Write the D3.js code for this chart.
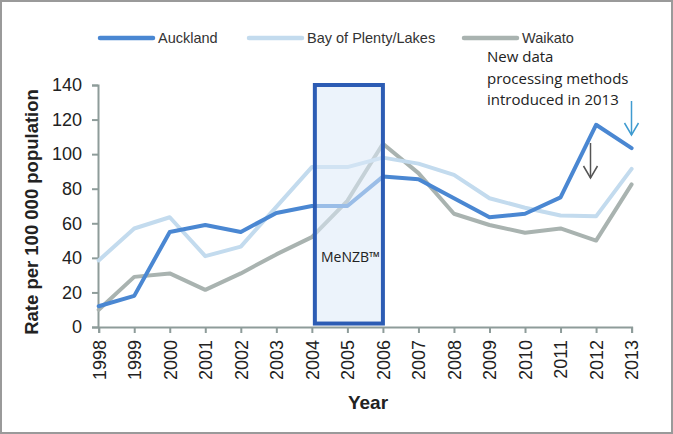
<!DOCTYPE html>
<html><head><meta charset="utf-8">
<script src="https://cdn.jsdelivr.net/npm/d3@7"></script>
<style>html,body{margin:0;padding:0;background:#fff;}svg{display:block;}</style>
</head><body>
<svg id="chart" width="673" height="434"></svg>
<script>
const years = [1998,1999,2000,2001,2002,2003,2004,2005,2006,2007,2008,2009,2010,2011,2012,2013];
const auckland = [12,18,55,59,55,66,70,70,87,85.5,74.5,63.5,65.5,75,117,103.5];
const bayOfPlenty = [38.5,57,63.5,41,46.5,69.5,92.5,92.5,98,94.5,88,74.5,69,64.5,64,91.5];
const waikato = [10,29,31,21.5,31,42,52,73,106,89,65.5,59,54.5,57,50,82.5];
const yTicks = [0,20,40,60,80,100,120,140];
const seriesNames = ["Auckland","Bay of Plenty/Lakes","Waikato"];
const seriesColors = ["#4a87d2","#c3dbee","#a9b3b0"];
const boxYears = [2004,2006];

const svg = d3.select("#chart");
svg.append("rect").attr("x",1).attr("y",1).attr("width",671).attr("height",432)
  .attr("fill","#fff").attr("stroke","#9a9a9a").attr("stroke-width",2);

const x = d3.scaleLinear().domain([1998,2013]).range([98.7,631.6]);
const y = d3.scaleLinear().domain([0,140]).range([327,85]);
const axisColor = "#8e9c9a";

// y axis
const yAxis = svg.append("g").attr("transform","translate(98,0)")
  .call(d3.axisLeft(y).tickValues(yTicks).tickSize(6).tickPadding(10));
yAxis.select(".domain").attr("stroke",axisColor).attr("stroke-width",2);
yAxis.selectAll(".tick line").attr("stroke",axisColor).attr("stroke-width",2);
yAxis.selectAll("text").attr("font-family","Liberation Sans, Arial, sans-serif")
  .attr("font-size",18).attr("fill","#222");

// x axis
const xAxis = svg.append("g").attr("transform","translate(0,327)")
  .call(d3.axisBottom(x).tickValues(years).tickFormat(d3.format("d")).tickSize(6));
xAxis.select(".domain").attr("stroke",axisColor).attr("stroke-width",2);
xAxis.selectAll(".tick line").attr("stroke",axisColor).attr("stroke-width",2);
xAxis.selectAll("text").attr("font-family","Liberation Sans, Arial, sans-serif")
  .attr("font-size",18).attr("fill","#222")
  .attr("transform","rotate(-90)").attr("text-anchor","end")
  .attr("x",-13).attr("y",0).attr("dy","0.35em");

// lines
const line = d3.line().x((d,i)=>x(years[i])).y(d=>y(d));
[waikato, bayOfPlenty, auckland].forEach((s,k)=>{
  const idx = [2,1,0][k];
  svg.append("path").datum(s).attr("d",line).attr("fill","none")
    .attr("stroke",seriesColors[idx]).attr("stroke-width",4)
    .attr("stroke-linejoin","round").attr("stroke-linecap","round");
});

// MeNZB box
svg.append("rect")
  .attr("x",x(boxYears[0])+3).attr("y",y(140))
  .attr("width",x(boxYears[1])-x(boxYears[0])-3).attr("height",y(2)-y(140))
  .attr("fill","#dce9f8").attr("fill-opacity",0.55)
  .attr("stroke","#2c5cb4").attr("stroke-width",4);
svg.append("text").attr("x",(x(boxYears[0])+x(boxYears[1]))/2+3).attr("y",257)
  .attr("text-anchor","middle").attr("dy","0.35em")
  .attr("font-family","Open Sans, sans-serif").attr("font-size",14).attr("fill","#222")
  .text("MeNZB™");

// legend
const legX = [98,247,462];
seriesNames.forEach((n,i)=>{
  svg.append("line").attr("x1",legX[i]+2).attr("x2",legX[i]+55).attr("y1",38).attr("y2",38)
    .attr("stroke",seriesColors[i]).attr("stroke-width",4.5).attr("stroke-linecap","round");
  svg.append("text").attr("x",legX[i]+60).attr("y",38).attr("dy","0.35em")
    .attr("font-family","Liberation Sans, Arial, sans-serif").attr("font-size",14.5).attr("fill","#333")
    .text(n);
});

// annotation
const ann = ["New data","processing methods","introduced in 2013"];
ann.forEach((t,i)=>{
  svg.append("text").attr("x",487).attr("y",57+i*21.5).attr("dy","0.35em")
    .attr("font-family","Open Sans, sans-serif").attr("font-size",15).attr("fill","#222")
    .text(t);
});

function arrow(xp,y1,y2,color){
  svg.append("line").attr("x1",xp).attr("x2",xp).attr("y1",y1).attr("y2",y2)
    .attr("stroke",color).attr("stroke-width",1.5);
  svg.append("path").attr("d",`M${xp-7},${y2-12}L${xp},${y2}L${xp+7},${y2-12}`)
    .attr("fill","none").attr("stroke",color).attr("stroke-width",1.5);
}
arrow(631.5,101,135,"#3f9bd0");
arrow(590.5,143,178,"#555");

// axis titles
svg.append("text").attr("transform","translate(32,212) rotate(-90)")
  .attr("text-anchor","middle").attr("dy","0.35em")
  .attr("font-family","Liberation Sans, Arial, sans-serif").attr("font-weight","bold")
  .attr("font-size",18.5).attr("fill","#222").text("Rate per 100 000 population");
svg.append("text").attr("x",368).attr("y",402).attr("text-anchor","middle").attr("dy","0.35em")
  .attr("font-family","Liberation Sans, Arial, sans-serif").attr("font-weight","bold")
  .attr("font-size",19).attr("fill","#222").text("Year");
</script>
</body></html>
